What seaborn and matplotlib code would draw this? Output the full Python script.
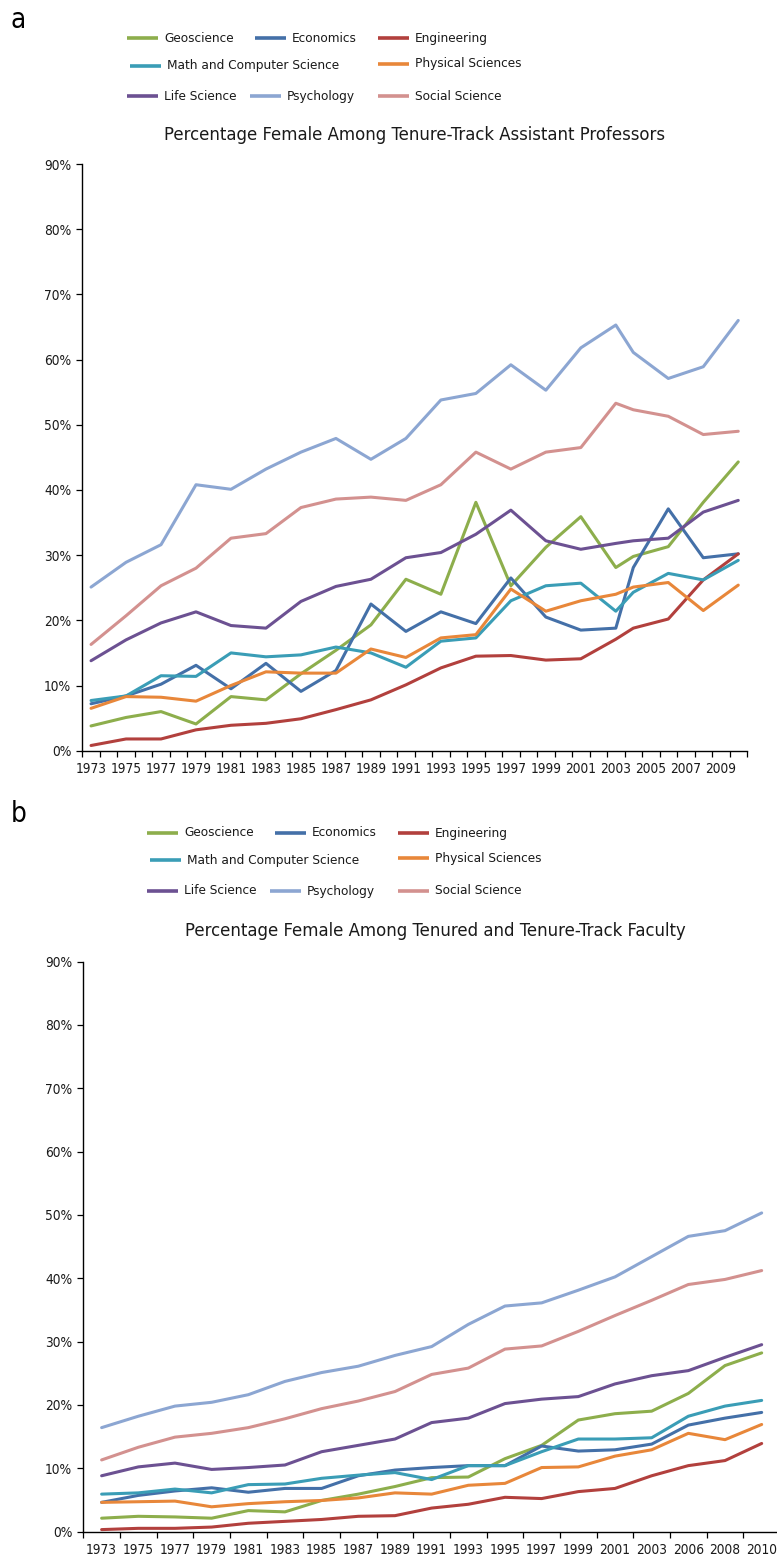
import matplotlib

matplotlib.use("Agg")
import matplotlib.pyplot as plt
import numpy as np
import pandas as pd
import seaborn as sns
from matplotlib import font_manager
from matplotlib.lines import Line2D
from matplotlib.ticker import PercentFormatter

FIELDS = ["Geoscience", "Economics", "Engineering", "Math and Computer Science",
          "Physical Sciences", "Life Science", "Psychology", "Social Science"]
COLORS = {
    "Geoscience": "#8DAE4C",
    "Economics": "#4470A8",
    "Engineering": "#B2403D",
    "Math and Computer Science": "#3A9DB6",
    "Physical Sciences": "#E8873A",
    "Life Science": "#6C5192",
    "Psychology": "#8CA6D2",
    "Social Science": "#D3918F",
}

# panel a: tenure-track assistant professors (percent female)
YEARS_A = [1973, 1975, 1977, 1979, 1981, 1983, 1985, 1987, 1989, 1991, 1993,
           1995, 1997, 1999, 2001, 2003, 2004, 2006, 2008, 2010]
YEAR_LABELS_A = list(range(1973, 2010, 2))
GEO_A = [3.8, 5.1, 6.0, 4.1, 8.3, 7.8, 11.8, 15.4, 19.3, 26.3, 24.0,
         38.1, 25.3, 31.2, 35.9, 28.1, 29.8, 31.3, 38.1, 44.3]
ECON_A = [7.2, 8.4, 10.2, 13.1, 9.5, 13.4, 9.1, 12.3, 22.5, 18.3, 21.3,
          19.5, 26.5, 20.5, 18.5, 18.8, 28.1, 37.1, 29.6, 30.2]
ENG_A = [0.8, 1.8, 1.8, 3.2, 3.9, 4.2, 4.9, 6.3, 7.8, 10.1, 12.7,
         14.5, 14.6, 13.9, 14.1, 17.1, 18.8, 20.2, 26.2, 30.2]
MATH_A = [7.7, 8.4, 11.5, 11.4, 15.0, 14.4, 14.7, 15.9, 15.0, 12.8, 16.8,
          17.3, 23.0, 25.3, 25.7, 21.4, 24.3, 27.2, 26.2, 29.2]
PHYS_A = [6.5, 8.3, 8.2, 7.6, 10.0, 12.1, 11.9, 11.9, 15.6, 14.3, 17.3,
          17.8, 24.8, 21.4, 23.0, 24.0, 25.1, 25.8, 21.5, 25.4]
LIFE_A = [13.8, 17.0, 19.6, 21.3, 19.2, 18.8, 22.9, 25.2, 26.3, 29.6, 30.4,
          33.2, 36.9, 32.2, 30.9, 31.8, 32.2, 32.6, 36.6, 38.4]
PSYCH_A = [25.1, 28.9, 31.6, 40.8, 40.1, 43.2, 45.8, 47.9, 44.7, 47.9, 53.8,
           54.8, 59.2, 55.3, 61.8, 65.3, 61.1, 57.1, 58.9, 66.0]
SOC_A = [16.3, 20.7, 25.3, 28.0, 32.6, 33.3, 37.3, 38.6, 38.9, 38.4, 40.8,
         45.8, 43.2, 45.8, 46.5, 53.3, 52.3, 51.3, 48.5, 49.0]

# panel b: tenured and tenure-track faculty (percent female)
YEARS_B = ["1973", "1975", "1977", "1979", "1981", "1983", "1985", "1987", "1989",
           "1991", "1993", "1995", "1997", "1999", "2001", "2003", "2006", "2008", "2010"]
GEO_B = [2.1, 2.4, 2.3, 2.1, 3.3, 3.1, 4.9, 5.9, 7.1, 8.5, 8.6,
         11.5, 13.6, 17.6, 18.6, 19.0, 21.8, 26.2, 28.2]
ECON_B = [4.6, 5.7, 6.4, 6.9, 6.2, 6.8, 6.8, 8.8, 9.7, 10.1, 10.4,
          10.4, 13.5, 12.7, 12.9, 13.8, 16.8, 17.9, 18.8]
ENG_B = [0.3, 0.5, 0.5, 0.7, 1.3, 1.6, 1.9, 2.4, 2.5, 3.7, 4.3,
         5.4, 5.2, 6.3, 6.8, 8.8, 10.4, 11.2, 13.9]
MATH_B = [5.9, 6.1, 6.7, 6.1, 7.4, 7.5, 8.4, 8.9, 9.3, 8.2, 10.4,
          10.4, 12.6, 14.6, 14.6, 14.8, 18.2, 19.8, 20.7]
PHYS_B = [4.6, 4.7, 4.8, 3.9, 4.4, 4.7, 4.9, 5.3, 6.1, 5.9, 7.3,
          7.6, 10.1, 10.2, 11.9, 12.9, 15.5, 14.5, 16.9]
LIFE_B = [8.8, 10.2, 10.8, 9.8, 10.1, 10.5, 12.6, 13.6, 14.6, 17.2, 17.9,
          20.2, 20.9, 21.3, 23.3, 24.6, 25.4, 27.5, 29.5]
PSYCH_B = [16.4, 18.2, 19.8, 20.4, 21.6, 23.7, 25.1, 26.1, 27.8, 29.2, 32.7,
           35.6, 36.1, 38.1, 40.2, 43.4, 46.6, 47.5, 50.3]
SOC_B = [11.3, 13.3, 14.9, 15.5, 16.4, 17.8, 19.4, 20.6, 22.1, 24.8, 25.8,
         28.8, 29.3, 31.6, 34.1, 36.5, 39.0, 39.8, 41.2]

TITLE_A = "Percentage Female Among Tenure-Track Assistant Professors"
TITLE_B = "Percentage Female Among Tenured and Tenure-Track Faculty"

W, H = 777, 1558
TEXT_COLOR = "#1a1a1a"


def pick_font():
    # prefer a narrow face (closest to the condensed type of the original)
    for f in font_manager.fontManager.ttflist:
        name = f.name.lower()
        if ("narrow" in name or "condensed" in name or str(f.stretch) in ("condensed", "semi-condensed")) \
                and f.style == "normal" and f.weight in (400, "normal", "regular"):
            return font_manager.FontProperties(fname=f.fname), 1.0
    return font_manager.FontProperties(family=["Liberation Sans", "DejaVu Sans"]), 0.92


FONT, SCALE = pick_font()


def fp(size):
    prop = FONT.copy()
    prop.set_size(size * SCALE)
    return prop


def long_frame(years, series):
    rows = []
    for field, vals in zip(FIELDS, series):
        for yr, v in zip(years, vals):
            rows.append({"Year": yr, "Field": field, "Share": v / 100.0})
    return pd.DataFrame(rows)


def fx(px):
    return px / W


def fy(px):
    return 1 - px / H


def style_axis(ax):
    sns.despine(ax=ax)
    for side in ["left", "bottom"]:
        ax.spines[side].set_color("black")
        ax.spines[side].set_linewidth(1.0)
    ax.set_ylim(0, 0.9)
    ax.set_yticks(np.arange(0, 0.91, 0.1))
    ax.yaxis.set_major_formatter(PercentFormatter(1.0, decimals=0))
    ax.tick_params(axis="y", which="major", left=True, length=4, width=0.9,
                   color="black", pad=4)
    ax.tick_params(axis="x", which="major", bottom=True, length=0, pad=8)
    ax.tick_params(axis="x", which="minor", bottom=True, length=4, width=0.9,
                   color="black")
    for lab in ax.get_xticklabels() + ax.get_yticklabels():
        lab.set_fontproperties(fp(9.8))
        lab.set_color(TEXT_COLOR)
    ax.set_xlabel("")
    ax.set_ylabel("")
    ax.grid(False)


def draw_legend(fig, dx, dy):
    # (label, line start x, row y) in pixels for panel a
    entries = [
        ("Geoscience", 127, 38), ("Economics", 255, 38), ("Engineering", 378, 38),
        ("Math and Computer Science", 130, 65.5), ("Physical Sciences", 378, 63.5),
        ("Life Science", 127, 96), ("Psychology", 250, 96), ("Social Science", 378, 96),
    ]
    for label, x0, y in entries:
        x0 += dx
        y += dy
        fig.add_artist(Line2D([fx(x0), fx(x0 + 31)], [fy(y), fy(y)],
                              transform=fig.transFigure, color=COLORS[label],
                              lw=2.6, solid_capstyle="butt"))
        fig.text(fx(x0 + 37), fy(y + 0.5), label, fontproperties=fp(9.7), va="center",
                 ha="left", color=TEXT_COLOR)


def main():
    sns.set_theme(style="ticks")
    plt.rcParams["font.family"] = ["Liberation Sans", "DejaVu Sans"]

    df_a = long_frame(YEARS_A, [GEO_A, ECON_A, ENG_A, MATH_A, PHYS_A, LIFE_A, PSYCH_A, SOC_A])
    df_b = long_frame(YEARS_B, [GEO_B, ECON_B, ENG_B, MATH_B, PHYS_B, LIFE_B, PSYCH_B, SOC_B])

    fig = plt.figure(figsize=(W / 100, H / 100), dpi=100)
    fig.patch.set_facecolor("white")

    # panel a
    ax_a = fig.add_axes([fx(82.3), fy(750.7), fx(747 - 82.3), (750.7 - 164) / H])
    sns.lineplot(data=df_a, x="Year", y="Share", hue="Field", hue_order=FIELDS,
                 palette=COLORS, linewidth=2.2, legend=False, ax=ax_a,
                 solid_joinstyle="round", solid_capstyle="round")
    ax_a.set_xlim(1972.5, 2010.5)
    ax_a.set_xticks(YEAR_LABELS_A)
    ax_a.set_xticklabels([str(y) for y in YEAR_LABELS_A])
    ax_a.set_xticks(np.arange(1972.5, 2011, 1), minor=True)
    style_axis(ax_a)

    # panel b
    ax_b = fig.add_axes([fx(83.3), fy(1531.5), fx(780 - 83.3), (1531.5 - 961.5) / H])
    sns.lineplot(data=df_b, x="Year", y="Share", hue="Field", hue_order=FIELDS,
                 palette=COLORS, linewidth=2.2, legend=False, ax=ax_b, sort=False,
                 solid_joinstyle="round", solid_capstyle="round")
    ax_b.set_xlim(-0.5, len(YEARS_B) - 0.5)
    ax_b.set_xticks(range(len(YEARS_B)))
    ax_b.set_xticklabels(YEARS_B)
    ax_b.set_xticks(np.arange(-0.5, len(YEARS_B), 1), minor=True)
    style_axis(ax_b)

    # titles, legends, panel letters
    fig.text(fx(415), fy(135), TITLE_A, fontproperties=fp(13.2), ha="center",
             va="center", color=TEXT_COLOR)
    fig.text(fx(435), fy(931.5), TITLE_B, fontproperties=fp(13.2), ha="center",
             va="center", color=TEXT_COLOR)
    draw_legend(fig, 0, 0)
    draw_legend(fig, 20, 794.5)
    fig.text(fx(11), fy(20), "a", fontproperties=fp(20), ha="left", va="center",
             color="black")
    fig.text(fx(11), fy(814), "b", fontproperties=fp(20), ha="left", va="center",
             color="black")

    fig.savefig("out.png", dpi=100, facecolor="white")
    plt.close(fig)


if __name__ == "__main__":
    main()
